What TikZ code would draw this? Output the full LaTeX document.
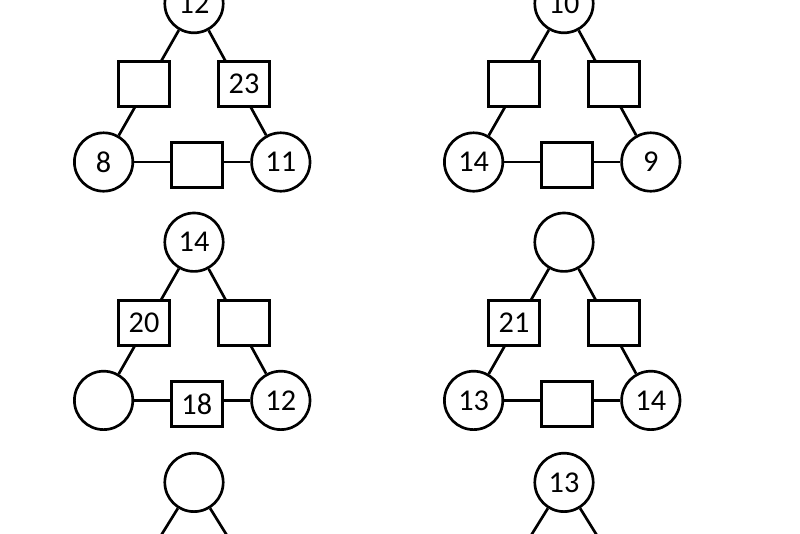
\documentclass[tikz,border=0pt]{standalone}
\usepackage{fontspec}
\setmainfont{Carlito}

\begin{document}
\begin{tikzpicture}[
    font=\fontsize{21.5}{24}\selectfont,
    ring/.style={
        circle,
        draw=black,
        line width=1.9pt,
        minimum size=1.46cm,
        inner sep=0pt
    },
    box/.style={
        rectangle,
        draw=black,
        fill=white,
        line width=1.9pt,
        minimum width=1.28cm,
        minimum height=1.13cm,
        inner sep=0pt
    },
    link/.style={
        draw=black,
        line width=1.9pt
    }
]

% Page
\useasboundingbox (0,0) rectangle (20,-13.325);
\fill[white] (0,0) rectangle (20,-13.325);
\clip (0,0) rectangle (20,-13.325);

% Triangle one (top left)
\node[ring] (onetop) at (4.85,-0.09) {12};
\node[ring] (oneleft) at (2.59,-4.05) {8};
\node[ring] (oneright) at (7.02,-4.05) {11};
\draw[link] (onetop) -- (oneleft);
\draw[link] (onetop) -- (oneright);
\draw[link] (oneleft) -- (oneright);
\node[box] (oneleftsq) at (3.6,-2.1) {};
\node[box] (onerightsq) at (6.1,-2.1) {23};
\node[box] (onebottom) at (4.92,-4.13) {};

% Triangle two (top right)
\node[ring] (twotop) at (14.1,-0.09) {10};
\node[ring] (twoleft) at (11.84,-4.05) {14};
\node[ring] (tworight) at (16.27,-4.05) {9};
\draw[link] (twotop) -- (twoleft);
\draw[link] (twotop) -- (tworight);
\draw[link] (twoleft) -- (tworight);
\node[box] (twoleftsq) at (12.85,-2.1) {};
\node[box] (tworightsq) at (15.35,-2.1) {};
\node[box] (twobottom) at (14.17,-4.13) {};

% Triangle three (middle left)
\node[ring] (threetop) at (4.85,-6.055) {14};
\node[ring] (threeleft) at (2.59,-10.01) {};
\node[ring] (threeright) at (7.02,-10.01) {12};
\draw[link] (threetop) -- (threeleft);
\draw[link] (threetop) -- (threeright);
\draw[link] (threeleft) -- (threeright);
\node[box] (threeleftsq) at (3.6,-8.07) {20};
\node[box] (threerightsq) at (6.1,-8.07) {};
\node[box] (threebottom) at (4.92,-10.1) {18};

% Triangle four (middle right)
\node[ring] (fourtop) at (14.1,-6.055) {};
\node[ring] (fourleft) at (11.84,-10.01) {13};
\node[ring] (fourright) at (16.27,-10.01) {14};
\draw[link] (fourtop) -- (fourleft);
\draw[link] (fourtop) -- (fourright);
\draw[link] (fourleft) -- (fourright);
\node[box] (fourleftsq) at (12.85,-8.07) {21};
\node[box] (fourrightsq) at (15.35,-8.07) {};
\node[box] (fourbottom) at (14.17,-10.1) {};

% Triangles five and six, cut by the page edge
\node[ring] (fivetop) at (4.85,-12.06) {};
\coordinate (fiveleftsq) at (3.6,-14.07);
\coordinate (fiverightsq) at (6.1,-14.07);
\draw[link] (fivetop) -- (fiveleftsq);
\draw[link] (fivetop) -- (fiverightsq);

\node[ring] (sixtop) at (14.1,-12.06) {13};
\coordinate (sixleftsq) at (12.85,-14.07);
\coordinate (sixrightsq) at (15.35,-14.07);
\draw[link] (sixtop) -- (sixleftsq);
\draw[link] (sixtop) -- (sixrightsq);

\end{tikzpicture}
\end{document}
